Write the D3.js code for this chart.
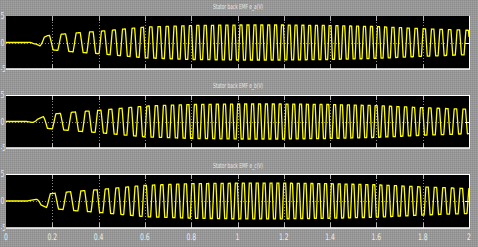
<!DOCTYPE html>
<html>
<head>
<meta charset="utf-8">
<script src="https://cdn.jsdelivr.net/npm/d3@7"></script>
<style>
  html, body { margin: 0; padding: 0; background: #969696; }
  svg { display: block; }
</style>
</head>
<body>
<svg id="chart" width="478" height="247"></svg>
<script>
// scope titles, one per panel
var titles = ['Stator back EMF e_a(V)', 'Stator back EMF e_b(V)', 'Stator back EMF e_c(V)'];

var xTicks = [0, 0.2, 0.4, 0.6, 0.8, 1, 1.2, 1.4, 1.6, 1.8, 2];
var xTickLabels = ['0', '0.2', '0.4', '0.6', '0.8', '1', '1.2', '1.4', '1.6', '1.8', '2'];
var yTicks = [5, 0, -5];
var yTickLabels = ['5', '0', '-5'];

// electrical frequency of the back EMF (Hz)
var freqT = [0.08, 0.13, 0.2, 0.3, 0.4, 0.6, 0.8, 1.0, 1.2, 1.4, 1.6, 1.8, 2.0];
var freqHz = [6, 10, 14, 16, 20, 27, 31, 33, 34, 34, 33, 28, 26];

// peak amplitude envelope (V)
var ampT = [0, 0.09, 0.13, 0.18, 0.25, 0.3, 0.4, 0.6, 0.8, 1.0, 1.2, 1.4, 1.6, 1.8, 2.0];
var ampV = [0, 0, 0.3, 1.3, 1.6, 1.8, 2.1, 2.9, 3.2, 3.3, 3.3, 3.2, 3.0, 2.6, 2.3];

// time of the first e_a peak, and phase lead of each phase in cycles
var firstPeak = 0.177;
var phaseShift = [0, 1 / 3, -1 / 3];

// panel boxes (top, bottom) in pixels
var panelTop = [16, 95, 174];
var panelBottom = [69, 148, 228];
var titleY = [9, 88, 168];
var left = 6, right = 469;

var svg = d3.select('#chart');

// dithered grey background like the scope window
var defs = svg.append('defs');
var pat = defs.append('pattern')
  .attr('id', 'dither')
  .attr('width', 2).attr('height', 2)
  .attr('patternUnits', 'userSpaceOnUse');
pat.append('rect').attr('width', 2).attr('height', 2).attr('fill', '#979797');
pat.append('rect').attr('width', 1).attr('height', 1).attr('fill', '#8b8b8b');
pat.append('rect').attr('x', 1).attr('y', 1).attr('width', 1).attr('height', 1).attr('fill', '#a2a2a2');

svg.append('rect')
  .attr('width', 478).attr('height', 247)
  .attr('fill', 'url(#dither)');

var x = d3.scaleLinear().domain([0, 2]).range([left, right]);
var freq = d3.scaleLinear().domain(freqT).range(freqHz).clamp(true);
var amp = d3.scaleLinear().domain(ampT).range(ampV).clamp(true);

// integrate the frequency to get the phase (cycles) at each sample
var dt = 0.0005;
var samples = [];
var ph = 0, peakPh = 0;
for (var t = 0; t <= 2 + 1e-9; t += dt) {
  samples.push({ t: t, ph: ph });
  if (Math.abs(t - firstPeak) < dt / 2) peakPh = ph;
  ph += freq(t) * dt;
}

function trap(c) {
  var s = Math.sin(2 * Math.PI * c);
  return Math.max(-1, Math.min(1, 1.6 * s));
}

titles.forEach(function (title, i) {
  var y = d3.scaleLinear().domain([-5, 5]).range([panelBottom[i], panelTop[i]]);
  var g = svg.append('g').attr('class', 'panel');

  g.append('rect')
    .attr('x', left).attr('y', panelTop[i])
    .attr('width', right - left).attr('height', panelBottom[i] - panelTop[i])
    .attr('fill', '#000');

  // dotted grid
  g.selectAll('.vgrid')
    .data(xTicks.slice(1, -1))
    .enter().append('line')
    .attr('class', 'vgrid')
    .attr('x1', function (d) { return Math.round(x(d)) + 0.5; })
    .attr('x2', function (d) { return Math.round(x(d)) + 0.5; })
    .attr('y1', panelTop[i]).attr('y2', panelBottom[i])
    .attr('stroke', '#8a8a8a').attr('stroke-width', 1)
    .attr('stroke-dasharray', '1,2');

  g.selectAll('.vtick')
    .data(xTicks.slice(1, -1))
    .enter().append('g')
    .each(function (d) {
      var xx = Math.round(x(d)) + 0.5;
      d3.select(this).append('line')
        .attr('x1', xx).attr('x2', xx)
        .attr('y1', panelTop[i]).attr('y2', panelTop[i] + 5)
        .attr('stroke', '#b0b0b0');
      d3.select(this).append('line')
        .attr('x1', xx).attr('x2', xx)
        .attr('y1', panelBottom[i] - 5).attr('y2', panelBottom[i])
        .attr('stroke', '#b0b0b0');
    });

  g.append('line')
    .attr('x1', left).attr('x2', right)
    .attr('y1', Math.round(y(0)) + 0.5).attr('y2', Math.round(y(0)) + 0.5)
    .attr('stroke', '#8a8a8a')
    .attr('stroke-dasharray', '1,2');

  // signal
  var line = d3.line()
    .x(function (d) { return x(d.t); })
    .y(function (d) { return y(amp(d.t) * trap(d.ph - peakPh + 0.25 + phaseShift[i])); });

  g.append('path')
    .datum(samples)
    .attr('d', line)
    .attr('fill', 'none')
    .attr('stroke', '#ffff00')
    .attr('stroke-width', 1.3)
    .attr('stroke-linejoin', 'miter');

  // white frame edges
  if (i > 0) {
    g.append('line')
      .attr('x1', left).attr('x2', right)
      .attr('y1', panelTop[i] + 0.5).attr('y2', panelTop[i] + 0.5)
      .attr('stroke', '#fff');
  }
  g.append('line')
    .attr('x1', left).attr('x2', right + 1)
    .attr('y1', panelBottom[i]).attr('y2', panelBottom[i])
    .attr('stroke', '#fff').attr('stroke-width', 1.5);
  g.append('line')
    .attr('x1', right + 0.5).attr('x2', right + 0.5)
    .attr('y1', panelTop[i]).attr('y2', panelBottom[i])
    .attr('stroke', '#fff');
  g.append('line')
    .attr('x1', right - 4).attr('x2', right)
    .attr('y1', Math.round(y(0)) + 0.5).attr('y2', Math.round(y(0)) + 0.5)
    .attr('stroke', '#fff');

  // y tick labels squeezed into the narrow left margin
  g.selectAll('.ylab')
    .data(yTicks)
    .enter().append('text')
    .attr('x', 0.5)
    .attr('y', function (d) { return y(d) + 3; })
    .attr('textLength', function (d, k) { return yTickLabels[k].length > 1 ? 5 : 4; })
    .attr('lengthAdjust', 'spacingAndGlyphs')
    .style('font-family', 'DejaVu Sans Condensed, DejaVu Sans, sans-serif')
    .style('font-size', '8px')
    .style('fill', '#e6e6e6')
    .text(function (d, k) { return yTickLabels[k]; });

  g.append('text')
    .attr('x', 238)
    .attr('y', titleY[i])
    .attr('text-anchor', 'middle')
    .attr('textLength', 50)
    .attr('lengthAdjust', 'spacingAndGlyphs')
    .style('font-family', 'DejaVu Sans Condensed, DejaVu Sans, sans-serif')
    .style('font-size', '7px')
    .style('fill', '#e8e8e8')
    .text(title);
});

// x tick labels under the last panel
svg.selectAll('.xlab')
  .data(xTicks)
  .enter().append('text')
  .attr('x', function (d) { return x(d); })
  .attr('y', 240)
  .attr('text-anchor', 'middle')
  .attr('transform', function (d) { return 'translate(' + x(d) + ',0) scale(0.75,1) translate(' + (-x(d)) + ',0)'; })
  .style('font-family', 'DejaVu Sans Condensed, DejaVu Sans, sans-serif')
  .style('font-size', '9px')
  .style('fill', '#eeeeee')
  .text(function (d, k) { return xTickLabels[k]; });
</script>
</body>
</html>
